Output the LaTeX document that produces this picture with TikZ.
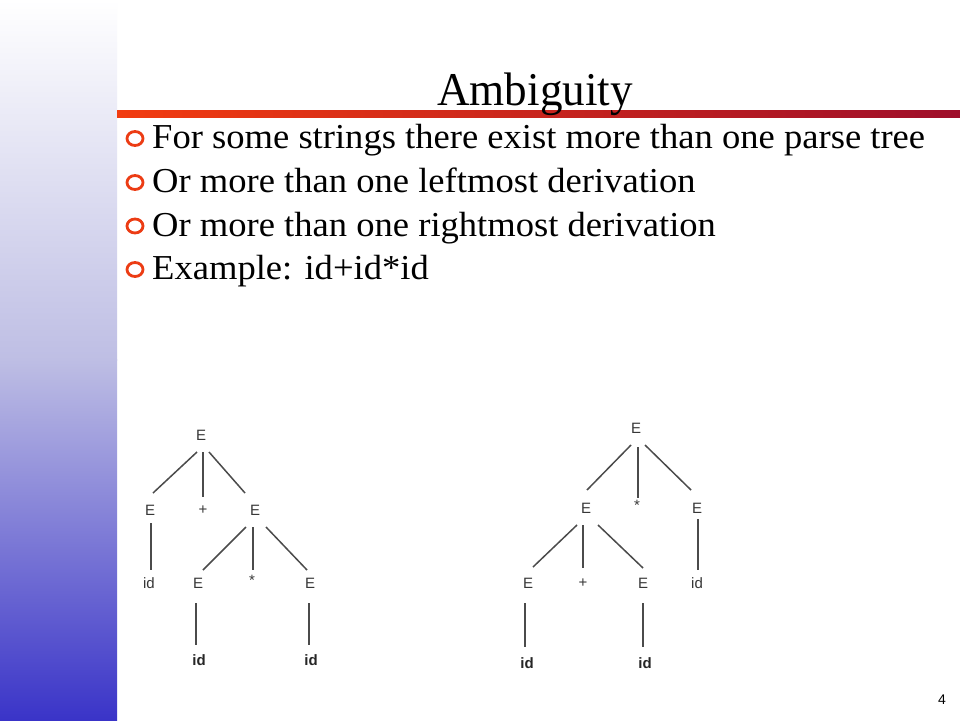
\documentclass[tikz,border=0pt]{standalone}
\usepackage{fontspec}
\setmainfont{Liberation Serif}
\setsansfont{Liberation Sans}
\usetikzlibrary{calc}
\definecolor{sidebl}{RGB}{58,52,200}
\definecolor{sidemid}{RGB}{190,190,228}
\definecolor{barl}{RGB}{242,60,16}
\definecolor{barr}{RGB}{158,14,42}
\definecolor{bulred}{RGB}{236,60,20}
\definecolor{treeline}{RGB}{75,75,75}
\definecolor{treetext}{RGB}{55,55,55}
\tikzset{
  tn/.style={font=\sffamily\fontsize{15}{15}\selectfont, text=treetext, inner sep=0pt},
  tb/.style={font=\sffamily\bfseries\fontsize{15}{15}\selectfont, text=black!85, inner sep=0pt},
  tl/.style={draw=treeline, line width=1.5pt},
  btext/.style={anchor=base west, inner sep=0pt, font=\fontsize{35}{35}\selectfont},
  bul/.style={draw=bulred, line width=2.8pt, fill=white}
}
\newcommand{\wide}[1]{\scalebox{1.045}[1]{#1}}
\newcommand{\narrow}[1]{\scalebox{0.96}[1]{#1}}
\begin{document}
\begin{tikzpicture}[x=1pt,y=-1pt]
\useasboundingbox (0,0) rectangle (960,720);
\fill[white] (0,0) rectangle (960,720);
% sidebar
\shade[top color=white, bottom color=sidemid] (0,0) rectangle (117,360);
\shade[top color=sidemid, bottom color=sidebl] (0,359.5) rectangle (117,720);
% bar
\shade[left color=barl, right color=barr] (117,110.5) rectangle (960,117);
% title
\node[anchor=base, inner sep=0pt, font=\fontsize{47}{47}\selectfont] (title) at (535,105) {\narrow{Ambiguity}};
% bullets
\foreach \yy/\nm/\tx in {148.5/b1/{For some strings there exist more than one parse tree},
                          192.5/b2/{Or more than one leftmost derivation},
                          236/b3/{Or more than one rightmost derivation},
                          279.5/b4/{Example: id+id*id}}{
  \draw[bul] (135,\yy-10) ellipse (8 and 7);
  \node[btext] (\nm) at (152,\yy) {\wide{\tx}};
}
% left tree
\node[tn] (L0) at (201,435) {E};
\node[tn] (L1) at (150,510) {E};
\node[tn] (L2) at (203,510) {+};
\node[tn] (L3) at (255,510) {E};
\node[tn] (L4) at (149,583) {id};
\node[tn] (L5) at (198,583) {E};
\node[tn] (L6) at (252,580) {*};
\node[tn] (L7) at (310,583) {E};
\node[tb] (L8) at (199,660) {id};
\node[tb] (L9) at (311,660) {id};
\draw[tl] ($(L0)+(-4,17)$) -- ($(L1)+(3,-17)$);
\draw[tl] ($(L0)+(2,17)$) -- ($(L2)+(0,-13)$);
\draw[tl] ($(L0)+(8,17)$) -- ($(L3)+(-10,-17)$);
\draw[tl] ($(L1)+(1,13)$) -- ($(L4)+(2,-13)$);
\draw[tl] ($(L3)+(-9,17)$) -- ($(L5)+(5,-13)$);
\draw[tl] ($(L3)+(-2,17)$) -- ($(L6)+(1,-10)$);
\draw[tl] ($(L3)+(11,17)$) -- ($(L7)+(-3,-13)$);
\draw[tl] ($(L5)+(-2,20)$) -- ($(L8)+(-3,-15)$);
\draw[tl] ($(L7)+(-1,20)$) -- ($(L9)+(-2,-15)$);
% right tree
\node[tn] (R0) at (636,428) {E};
\node[tn] (R1) at (586,508) {E};
\node[tn] (R2) at (637,505) {*};
\node[tn] (R3) at (697,508) {E};
\node[tn] (R4) at (528,583) {E};
\node[tn] (R5) at (583,583) {+};
\node[tn] (R6) at (643,583) {E};
\node[tn] (R7) at (697,583) {id};
\node[tb] (R8) at (527,663) {id};
\node[tb] (R9) at (645,663) {id};
\draw[tl] ($(R0)+(-5,17)$) -- ($(R1)+(1,-18)$);
\draw[tl] ($(R0)+(2,19)$) -- ($(R2)+(1,-7)$);
\draw[tl] ($(R0)+(9,17)$) -- ($(R3)+(-6,-18)$);
\draw[tl] ($(R1)+(-9,17)$) -- ($(R4)+(5,-16)$);
\draw[tl] ($(R1)+(-3,17)$) -- ($(R5)+(0,-15)$);
\draw[tl] ($(R1)+(12,17)$) -- ($(R6)+(0,-15)$);
\draw[tl] ($(R3)+(1,11)$) -- ($(R7)+(1,-13)$);
\draw[tl] ($(R4)+(-3,20)$) -- ($(R8)+(-2,-16)$);
\draw[tl] ($(R6)+(0,20)$) -- ($(R9)+(-2,-16)$);
% page number
\node[font=\sffamily\fontsize{14}{14}\selectfont, inner sep=0pt] (pnum) at (942,700) {4};
\end{tikzpicture}
\end{document}
